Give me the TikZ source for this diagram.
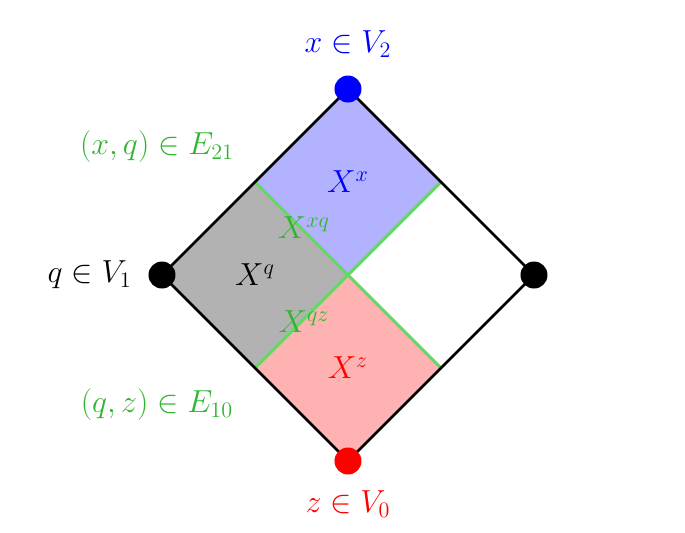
\documentclass[tikz,border=0pt]{standalone}
\usepackage{tikz}
\usetikzlibrary{positioning}
\definecolor{cutgreen}{RGB}{100,215,100}
\definecolor{textgreen}{RGB}{50,180,50}
\tikzstyle{vertex} = [circle, minimum size=0.54cm, inner sep=0pt]
\tikzstyle{tagtext} = [font=\LARGE, scale=1.05]
\tikzstyle{side} = [line width=1.6pt, draw=black]
\tikzstyle{cut} = [line width=1.7pt, draw=cutgreen]

\begin{document}
\begin{tikzpicture}
    \useasboundingbox (-6.96,-5.14) rectangle (6.74,5.5);

    \coordinate (c) at (0,0);
    \coordinate (n) at (0,3.72);
    \coordinate (w) at (-3.72,0);
    \coordinate (e) at (3.72,0);
    \coordinate (s) at (0,-3.72);
    \coordinate (nw) at (-1.86,1.86);
    \coordinate (ne) at (1.86,1.86);
    \coordinate (sw) at (-1.86,-1.86);
    \coordinate (se) at (1.86,-1.86);

    \fill [blue!30] (n) -- (nw) -- (c) -- (ne) -- cycle;
    \fill [black!30] (w) -- (nw) -- (c) -- (sw) -- cycle;
    \fill [red!30] (s) -- (sw) -- (c) -- (se) -- cycle;

    \draw [cut] (nw) -- (se);
    \draw [cut] (sw) -- (ne);

    \draw [side] (n) -- (e) -- (s) -- (w) -- cycle;

    \node (x) [vertex, fill=blue] at (n) {};
    \node (q) [vertex, fill=black] at (w) {};
    \node (r) [vertex, fill=black] at (e) {};
    \node (z) [vertex, fill=red] at (s) {};

    \node (x_text) [tagtext, text=blue] at (0,4.62) {$x\in V_2$};
    \node (q_text) [tagtext, left=0.2cm of q] {$q\in V_1$};
    \node (z_text) [tagtext, text=red] at (0,-4.58) {$z\in V_0$};
    \node (xq_text) [tagtext, text=textgreen] at (-3.82,2.56) {$(x,q)\in E_{21}$};
    \node (qz_text) [tagtext, text=textgreen] at (-3.82,-2.6) {$(q,z)\in E_{10}$};

    \node (Xx) [tagtext, text=blue] at (0,1.86) {$X^x$};
    \node (Xxq) [tagtext, text=textgreen] at (-0.88,0.94) {$X^{xq}$};
    \node (Xq) [tagtext] at (-1.86,0) {$X^q$};
    \node (Xqz) [tagtext, text=textgreen] at (-0.88,-0.94) {$X^{qz}$};
    \node (Xz) [tagtext, text=red] at (0,-1.86) {$X^z$};

\end{tikzpicture}
\end{document}
